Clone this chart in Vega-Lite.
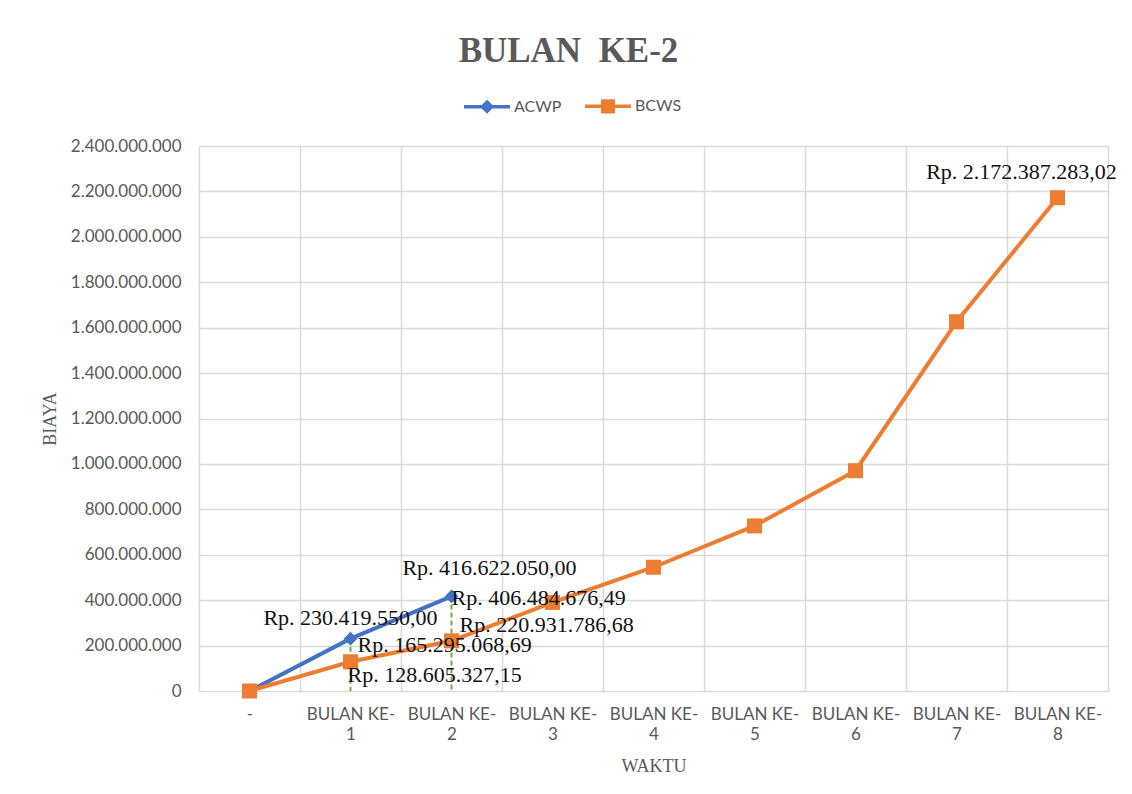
{
  "$schema": "https://vega.github.io/schema/vega-lite/v6.json",
  "autosize": {"type": "none"},
  "width": 909,
  "height": 545,
  "padding": {"left": 199, "top": 146, "right": 24, "bottom": 103},
  "background": "white",
  "config": {
    "view": {"stroke": null},
    "locale": {"number": {"decimal": ",", "thousands": ".", "grouping": [3], "currency": ["Rp. ", ""]}}
  },
  "title": {
    "text": "BULAN\u00a0 KE-2",
    "font": "Liberation Serif",
    "fontSize": 35,
    "fontWeight": "bold",
    "color": "#595959",
    "anchor": "middle",
    "frame": "group",
    "dx": -85,
    "offset": 12
  },
  "data": {
    "values": [
      {"waktu": "-", "series": "ACWP", "biaya": 0},
      {"waktu": "BULAN KE-1", "series": "ACWP", "biaya": 230419550.00},
      {"waktu": "BULAN KE-2", "series": "ACWP", "biaya": 416622050.00},
      {"waktu": "-", "series": "BCWS", "biaya": 0},
      {"waktu": "BULAN KE-1", "series": "BCWS", "biaya": 128605327.15},
      {"waktu": "BULAN KE-2", "series": "BCWS", "biaya": 220931786.68},
      {"waktu": "BULAN KE-3", "series": "BCWS", "biaya": 390000000},
      {"waktu": "BULAN KE-4", "series": "BCWS", "biaya": 545000000},
      {"waktu": "BULAN KE-5", "series": "BCWS", "biaya": 727000000},
      {"waktu": "BULAN KE-6", "series": "BCWS", "biaya": 970000000},
      {"waktu": "BULAN KE-7", "series": "BCWS", "biaya": 1626000000},
      {"waktu": "BULAN KE-8", "series": "BCWS", "biaya": 2172387283.02},
      {"waktu": "BULAN KE-1", "series": "BCWP", "biaya": 165295068.69},
      {"waktu": "BULAN KE-2", "series": "BCWP", "biaya": 406484676.49}
    ]
  },
  "encoding": {
    "x": {
      "field": "waktu",
      "type": "nominal",
      "scale": {
        "type": "band",
        "paddingInner": 0,
        "paddingOuter": 0,
        "domain": ["-", "BULAN KE-1", "BULAN KE-2", "BULAN KE-3", "BULAN KE-4", "BULAN KE-5", "BULAN KE-6", "BULAN KE-7", "BULAN KE-8"]
      },
      "axis": {
        "title": "WAKTU",
        "titleFont": "Liberation Serif",
        "titleFontSize": 18,
        "titleFontWeight": "normal",
        "titleColor": "#595959",
        "titlePadding": 15,
        "labelExpr": "datum.label == '-' ? '-' : (indexof('' + datum.label, 'BULAN KE-') == 0 ? ['BULAN KE-', replace(datum.label, 'BULAN KE-', '')] : '')",
        "labelAngle": 0,
        "labelFont": "Lato",
        "labelFontSize": 17,
        "labelColor": "#595959",
        "labelLineHeight": 20,
        "labelPadding": 15,
        "labelOverlap": false,
        "tickBand": "extent",
        "ticks": false,
        "domain": false,
        "grid": true,
        "gridColor": "#D9D9D9",
        "gridWidth": 1.5
      }
    },
    "y": {
      "field": "biaya",
      "type": "quantitative",
      "scale": {"domain": [0, 2400000000], "nice": false},
      "axis": {
        "title": "BIAYA",
        "titleFont": "Liberation Serif",
        "titleFontSize": 18,
        "titleFontWeight": "normal",
        "titleColor": "#595959",
        "titlePadding": 11,
        "values": [0, 200000000, 400000000, 600000000, 800000000, 1000000000, 1200000000, 1400000000, 1600000000, 1800000000, 2000000000, 2200000000, 2400000000],
        "format": ",.0f",
        "labelFont": "Lato",
        "labelFontSize": 17,
        "labelColor": "#595959",
        "labelPadding": 18,
        "ticks": false,
        "domain": false,
        "grid": true,
        "gridColor": "#D9D9D9",
        "gridWidth": 1.5
      }
    }
  },
  "layer": [
    {
      "transform": [{"filter": "datum.series == 'ACWP' && datum.waktu != '-'"}],
      "mark": {"type": "rule", "color": "#70AD47", "strokeWidth": 2, "strokeDash": [5, 3]},
      "encoding": {"y2": {"datum": 0}}
    },
    {
      "transform": [{"filter": "datum.series != 'BCWP'"}],
      "mark": {"type": "line", "strokeWidth": 4},
      "encoding": {
        "color": {
          "field": "series",
          "type": "nominal",
          "scale": {"domain": ["ACWP", "BCWS"], "range": ["#4472C4", "#ED7D31"]},
          "legend": {
            "title": null,
            "orient": "none",
            "legendX": 263,
            "legendY": -65,
            "direction": "horizontal",
            "padding": 0,
            "symbolSize": 2116,
            "symbolStrokeWidth": 3.5,
            "symbolType": "M-1,0H1",
            "labelFont": "Lato",
            "labelFontSize": 16,
            "labelColor": "#595959",
            "labelOffset": 2,
            "columnPadding": 16,
            "encode": {
              "symbols": {
                "update": {
                  "shape": {"signal": "datum.value === 'ACWP' ? 'M-1,0H1M0,-0.2L0.2,0L0,0.2L-0.2,0Z' : 'M-1,0H1M-0.23,-0.23H0.23V0.23H-0.23Z'"},
                  "fill": {"signal": "datum.value === 'ACWP' ? '#4472C4' : '#ED7D31'"},
                  "stroke": {"signal": "datum.value === 'ACWP' ? '#4472C4' : '#ED7D31'"},
                  "opacity": {"value": 1}
                }
              }
            }
          }
        }
      }
    },
    {
      "transform": [{"filter": "datum.series == 'ACWP'"}],
      "mark": {"type": "point", "filled": true, "opacity": 1, "shape": "diamond", "size": 190, "color": "#4472C4"}
    },
    {
      "transform": [{"filter": "datum.series == 'BCWS'"}],
      "mark": {"type": "point", "filled": true, "opacity": 1, "shape": "square", "size": 225, "color": "#ED7D31"}
    },
    {
      "transform": [{"filter": "datum.series == 'ACWP' && datum.waktu == 'BULAN KE-1'"}],
      "mark": {"type": "text", "font": "Liberation Serif", "fontSize": 22, "color": "#111111", "align": "center", "baseline": "alphabetic", "dx": 0, "dy": -14},
      "encoding": {"text": {"field": "biaya", "type": "quantitative", "format": "$,.2f"}}
    },
    {
      "transform": [{"filter": "datum.series == 'ACWP' && datum.waktu == 'BULAN KE-2'"}],
      "mark": {"type": "text", "font": "Liberation Serif", "fontSize": 22, "color": "#111111", "align": "center", "baseline": "alphabetic", "dx": 38, "dy": -21},
      "encoding": {"text": {"field": "biaya", "type": "quantitative", "format": "$,.2f"}}
    },
    {
      "transform": [{"filter": "datum.series == 'BCWS' && datum.waktu == 'BULAN KE-1'"}],
      "mark": {"type": "text", "font": "Liberation Serif", "fontSize": 22, "color": "#111111", "align": "left", "baseline": "alphabetic", "dx": -3, "dy": 20},
      "encoding": {"text": {"field": "biaya", "type": "quantitative", "format": "$,.2f"}}
    },
    {
      "transform": [{"filter": "datum.series == 'BCWS' && datum.waktu == 'BULAN KE-2'"}],
      "mark": {"type": "text", "font": "Liberation Serif", "fontSize": 22, "color": "#111111", "align": "left", "baseline": "alphabetic", "dx": 8, "dy": -9},
      "encoding": {"text": {"field": "biaya", "type": "quantitative", "format": "$,.2f"}}
    },
    {
      "transform": [{"filter": "datum.series == 'BCWP' && datum.waktu == 'BULAN KE-1'"}],
      "mark": {"type": "text", "font": "Liberation Serif", "fontSize": 22, "color": "#111111", "align": "left", "baseline": "alphabetic", "dx": 7, "dy": -1.5},
      "encoding": {"text": {"field": "biaya", "type": "quantitative", "format": "$,.2f"}}
    },
    {
      "transform": [{"filter": "datum.series == 'BCWP' && datum.waktu == 'BULAN KE-2'"}],
      "mark": {"type": "text", "font": "Liberation Serif", "fontSize": 22, "color": "#111111", "align": "left", "baseline": "alphabetic", "dx": 0, "dy": 6},
      "encoding": {"text": {"field": "biaya", "type": "quantitative", "format": "$,.2f"}}
    },
    {
      "transform": [{"filter": "datum.series == 'BCWS' && datum.waktu == 'BULAN KE-8'"}],
      "mark": {"type": "text", "font": "Liberation Serif", "fontSize": 22, "color": "#111111", "align": "center", "baseline": "alphabetic", "dx": -36, "dy": -19},
      "encoding": {"text": {"field": "biaya", "type": "quantitative", "format": "$,.2f"}}
    }
  ]
}
